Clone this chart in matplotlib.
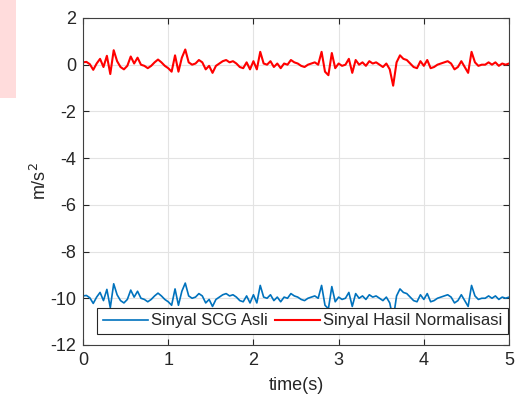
import matplotlib.pyplot as plt
import matplotlib.patches as mpatches
import numpy as np

# sinyal hasil normalisasi (m/s^2), langkah 0.04 s
sinyal_normalisasi = [
    0.10, 0.12, 0.02, -0.22, 0.05, 0.25, -0.10, 0.38, -0.40, 0.62,
    0.15, -0.10, -0.20, -0.05, 0.35, 0.05, 0.30, 0.00, -0.05, -0.15,
    -0.05, 0.10, 0.22, 0.10, -0.05, -0.15, -0.30, 0.40, -0.30, 0.30,
    0.65, 0.10, 0.00, 0.05, 0.20, 0.10, -0.20, -0.05, -0.35, -0.05,
    0.05, 0.15, 0.20, 0.10, 0.15, 0.05, -0.10, -0.15, 0.10, -0.20,
    0.15, -0.20, 0.55, 0.05, 0.00, 0.15, -0.10, 0.05, -0.15, 0.05,
    0.00, 0.20, 0.10, 0.05, -0.05, -0.10, 0.00, 0.05, 0.10, 0.00,
    0.55, -0.30, -0.45, 0.50, -0.15, 0.05, -0.05, 0.00, 0.25, -0.35,
    0.20, 0.00, 0.10, -0.05, 0.15, 0.05, 0.10, 0.00, -0.10, 0.05,
    -0.20, -0.90, 0.10, 0.40, 0.25, 0.20, 0.05, -0.10, -0.15, 0.15,
    -0.05, 0.20, -0.15, -0.10, 0.00, 0.05, 0.10, 0.15, 0.05, -0.20,
    -0.10, 0.15, -0.10, -0.35, 0.55, 0.10, -0.05, 0.00, 0.00, 0.10,
    0.00, 0.10, -0.05, 0.05, 0.00, 0.05,
]

# sinyal SCG asli (m/s^2)
sinyal_asli = [
    -9.90, -9.88, -9.98, -10.22, -9.95, -9.75, -10.10, -9.62, -10.40, -9.38,
    -9.85, -10.10, -10.20, -10.05, -9.65, -9.95, -9.70, -10.00, -10.05, -10.15,
    -10.05, -9.90, -9.78, -9.90, -10.05, -10.15, -10.30, -9.60, -10.30, -9.70,
    -9.35, -9.90, -10.00, -9.95, -9.80, -9.90, -10.20, -10.05, -10.35, -10.05,
    -9.95, -9.85, -9.80, -9.90, -9.85, -9.95, -10.10, -10.15, -9.90, -10.20,
    -9.85, -10.20, -9.45, -9.95, -10.00, -9.85, -10.10, -9.95, -10.15, -9.95,
    -10.00, -9.80, -9.90, -9.95, -10.05, -10.10, -10.00, -9.95, -9.90, -10.00,
    -9.45, -10.30, -10.45, -9.50, -10.15, -9.95, -10.05, -10.00, -9.75, -10.35,
    -9.80, -10.00, -9.90, -10.05, -9.85, -9.95, -9.90, -10.00, -10.10, -9.95,
    -10.20, -10.90, -9.90, -9.60, -9.75, -9.80, -9.95, -10.10, -10.15, -9.85,
    -10.05, -9.80, -10.15, -10.10, -10.00, -9.95, -9.90, -9.85, -9.95, -10.20,
    -10.10, -9.85, -10.10, -10.35, -9.45, -9.90, -10.05, -10.00, -10.00, -9.90,
    -10.00, -9.90, -10.05, -9.95, -10.00, -9.95,
]

waktu = np.linspace(0, 5, len(sinyal_asli))

plt.rcParams['font.family'] = ['Liberation Sans', 'DejaVu Sans']
plt.rcParams['axes.unicode_minus'] = False

fig = plt.figure(figsize=(5.16, 4.01), dpi=100)
# pink strip at the top-left corner of the screenshot
fig.patches.append(mpatches.Rectangle((0, 0.755), 0.031, 0.245, transform=fig.transFigure,
                                      facecolor='#ffdcdc', edgecolor='none', zorder=0))

ax = fig.add_axes([0.1609, 0.1397, 0.8256, 0.8155])
ax.plot(waktu, sinyal_asli, color='#0072BD', linewidth=1.2, label='Sinyal SCG Asli')
ax.plot(waktu, sinyal_normalisasi, color='red', linewidth=1.5, label='Sinyal Hasil Normalisasi')

ax.set_xlim(0, 5)
ax.set_ylim(-12, 2)
ax.set_xticks(range(0, 6))
ax.set_yticks(range(-12, 3, 2))
ax.set_xlabel('time(s)', fontsize=13, labelpad=6, color='#262626')
ax.set_ylabel('m/s$^2$', fontsize=13, labelpad=0, color='#262626')

ax.grid(True, color='#e3e3e3', linewidth=0.8)
ax.set_axisbelow(True)
ax.tick_params(direction='in', length=4, width=0.8, labelsize=13, colors='#262626',
               top=True, right=True, pad=5)
for s in ax.spines.values():
    s.set_color('#404040')
    s.set_linewidth(0.8)

leg = ax.legend(loc='lower center', bbox_to_anchor=(0.515, 0.033), ncol=2, fontsize=12,
                frameon=True, fancybox=False, framealpha=1, edgecolor='#262626',
                handlelength=2.7, handletextpad=0.2, columnspacing=0.4,
                borderpad=0.35, borderaxespad=0)
leg.get_frame().set_linewidth(0.8)
for t in leg.get_texts():
    t.set_color('#262626')

fig.savefig('out.png', dpi=100)
